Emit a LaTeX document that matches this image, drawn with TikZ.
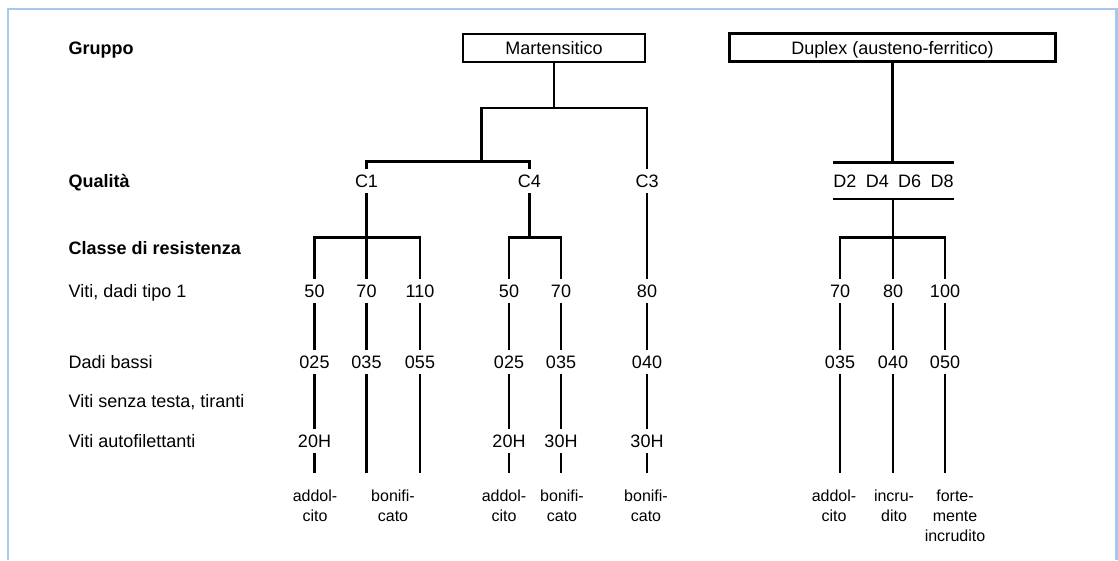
\documentclass[tikz,border=0pt]{standalone}
\usepackage{fontspec}
\setmainfont{Liberation Sans}
\definecolor{framecol}{RGB}{168,198,238}
\tikzset{
  tree/.style={line width=2.6pt, line join=miter},
  num/.style={font=\fontsize{18}{21}\selectfont, text height=13pt, text depth=0pt, inner xsep=1pt, inner ysep=5.5pt, anchor=base},
  grpbox/.style={draw, line width=2.4pt, font=\fontsize{18}{21}\selectfont, text height=13pt, text depth=0pt, inner sep=0pt, minimum height=27.7pt},
  rowlab/.style={font=\fontsize{18}{21}\selectfont, inner sep=0pt, anchor=base west},
  botlab/.style={font=\fontsize{16}{20}\selectfont, align=center, inner sep=0pt, anchor=north},
}
\begin{document}
\begin{tikzpicture}[x=1pt,y=-1pt]
\useasboundingbox (0,0) rectangle (1118,560);
\draw[framecol, line width=2.5pt] (8,560) -- (8,9) -- (1116.5,9) -- (1116.5,560);

% row labels
\node[rowlab, font=\fontsize{18}{21}\selectfont\bfseries] (lgr) at (68.5,54.5) {Gruppo};
\node[rowlab, font=\fontsize{18}{21}\selectfont\bfseries] (lqu) at (68.5,187) {Qualità};
\node[rowlab, font=\fontsize{18}{21}\selectfont\bfseries] (lcl) at (68.5,254.5) {Classe di resistenza};
\node[rowlab] (lvd) at (68.5,297.5) {Viti, dadi tipo 1};
\node[rowlab] (ldb) at (68.5,368) {Dadi bassi};
\node[rowlab] (lvs) at (68.5,407) {Viti senza testa, tiranti};
\node[rowlab] (lva) at (68.5,447) {Viti autofilettanti};

% group boxes
\node[grpbox, minimum width=182.3pt] (mart) at (554,47.85) {Martensitico};
\node[grpbox, minimum width=326pt] (dup) at (892.5,47.5) {Duplex (austeno-ferritico)};

% qualities
\node[num] (C1) at (366.5,187.3) {C1};
\node[num] (C4) at (529.3,187.3) {C4};
\node[num] (C3) at (647,187.3) {C3};
\node[num, inner xsep=0pt, inner ysep=11.5pt] (dq) at (893.5,187.3) {D2\hspace{0.52em}D4\hspace{0.52em}D6\hspace{0.52em}D8};

% junction coordinates
\coordinate (mL) at (481.5,108);
\coordinate (mR) at (647,108);
\coordinate (qj) at (481.5,161.7);
\coordinate (f1) at (0,237.7);
\coordinate (endrow) at (0,473.3);

% strength classes, row 1
\node[num] (v1a) at (314.5,297.3) {50};
\node[num] (v1b) at (366.5,297.3) {70};
\node[num] (v1c) at (420,297.3) {110};
\node[num] (v1d) at (509,297.3) {50};
\node[num] (v1e) at (561,297.3) {70};
\node[num] (v1f) at (647,297.3) {80};
\node[num] (v1g) at (840,297.3) {70};
\node[num] (v1h) at (893,297.3) {80};
\node[num] (v1i) at (945,297.3) {100};
% row 2
\node[num] (v2a) at (314.5,368.3) {025};
\node[num] (v2b) at (366.5,368.3) {035};
\node[num] (v2c) at (420,368.3) {055};
\node[num] (v2d) at (509,368.3) {025};
\node[num] (v2e) at (561,368.3) {035};
\node[num] (v2f) at (647,368.3) {040};
\node[num] (v2g) at (840,368.3) {035};
\node[num] (v2h) at (893,368.3) {040};
\node[num] (v2i) at (945,368.3) {050};
% row 3
\node[num] (v3a) at (314.5,447.3) {20H};
\node[num] (v3d) at (509,447.3) {20H};
\node[num] (v3e) at (561,447.3) {30H};
\node[num] (v3f) at (647,447.3) {30H};

% bottom labels
\node[botlab] (ba) at (315,489.5) {addol-\\cito};
\node[botlab] (bb) at (393,489.5) {bonifi-\\cato};
\node[botlab] (bd) at (504,489.5) {addol-\\cito};
\node[botlab] (be) at (562,489.5) {bonifi-\\cato};
\node[botlab] (bf) at (646,489.5) {bonifi-\\cato};
\node[botlab] (bg) at (834,489.5) {addol-\\cito};
\node[botlab] (bh) at (894,489.5) {incru-\\dito};
\node[botlab] (bi) at (955,489.5) {forte-\\mente\\incrudito};

% Martensitico tree
\draw[tree] (mart.south) -- (mart.south |- mL);
\draw[tree] (C3.north) -- (mR) -- (mL) -- (qj);
\draw[tree] (C1.north) -- (C1.north |- qj) -- (C4.north |- qj) -- (C4.north);

% C1 fork
\draw[tree] (C1.south) -- (v1b.north);
\draw[tree] (v1a.north) -- (v1a.north |- f1) -- (v1c.north |- f1) -- (v1c.north);
% C4 fork
\draw[tree] (C4.south) -- (C4.south |- f1);
\draw[tree] (v1d.north) -- (v1d.north |- f1) -- (v1e.north |- f1) -- (v1e.north);
% C3
\draw[tree] (C3.south) -- (v1f.north);

% Duplex tree
\draw[tree] (dup.south) -- (dup.south |- dq.north);
\draw[tree] (dq.north west) -- (dq.north east);
\draw[tree] (dq.south west) -- (dq.south east);
\draw[tree] (v1h.north |- dq.south) -- (v1h.north);
\draw[tree] (v1g.north) -- (v1g.north |- f1) -- (v1i.north |- f1) -- (v1i.north);

% columns
\draw[tree] (v1a.south) -- (v2a.north);
\draw[tree] (v2a.south) -- (v3a.north);
\draw[tree] (v3a.south) -- (v3a.south |- endrow);
\draw[tree] (v1b.south) -- (v2b.north);
\draw[tree] (v2b.south) -- (v2b.south |- endrow);
\draw[tree] (v1c.south) -- (v2c.north);
\draw[tree] (v2c.south) -- (v2c.south |- endrow);
\draw[tree] (v1d.south) -- (v2d.north);
\draw[tree] (v2d.south) -- (v3d.north);
\draw[tree] (v3d.south) -- (v3d.south |- endrow);
\draw[tree] (v1e.south) -- (v2e.north);
\draw[tree] (v2e.south) -- (v3e.north);
\draw[tree] (v3e.south) -- (v3e.south |- endrow);
\draw[tree] (v1f.south) -- (v2f.north);
\draw[tree] (v2f.south) -- (v3f.north);
\draw[tree] (v3f.south) -- (v3f.south |- endrow);
\draw[tree] (v1g.south) -- (v2g.north);
\draw[tree] (v2g.south) -- (v2g.south |- endrow);
\draw[tree] (v1h.south) -- (v2h.north);
\draw[tree] (v2h.south) -- (v2h.south |- endrow);
\draw[tree] (v1i.south) -- (v2i.north);
\draw[tree] (v2i.south) -- (v2i.south |- endrow);
\end{tikzpicture}
\end{document}
